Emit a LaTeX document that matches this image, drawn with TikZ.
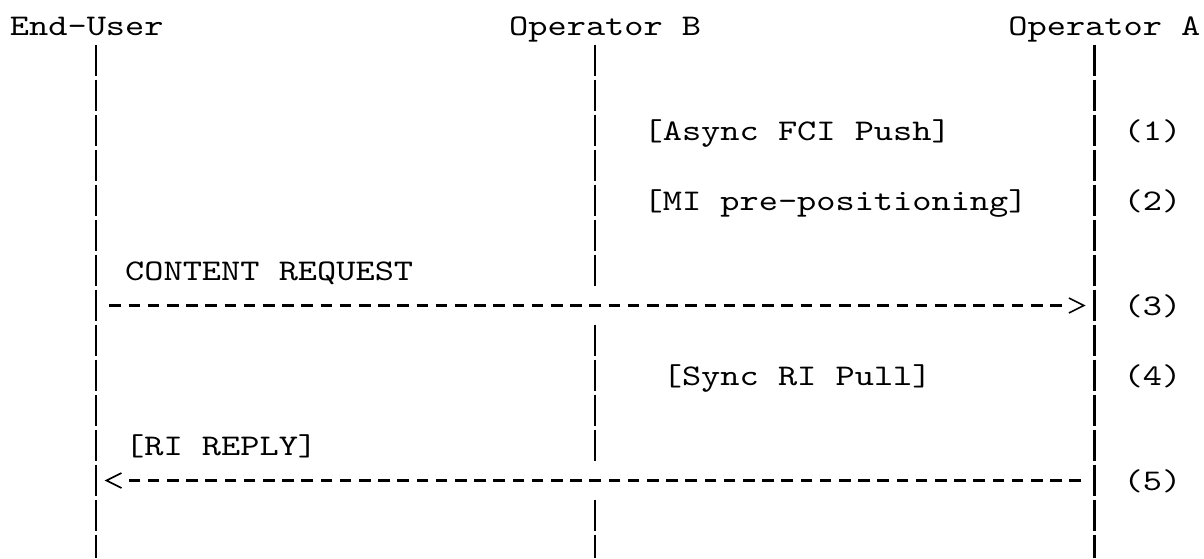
\documentclass[tikz,border=0pt]{standalone}
\usepackage{fontspec}
\newfontfamily\asciifont{lmmono10-regular.otf}[FakeStretch=1.219]
\begin{document}
\begin{tikzpicture}[x=0.5pt,y=-0.5pt,
  lbl/.style={anchor=base west, inner sep=0pt, font=\asciifont\fontsize{15}{18}\selectfont},
  lifeline/.style={draw=black, line width=1.1pt, dash pattern=on 15.85pt off 1.65pt},
  msg/.style={draw=black, line width=1.4pt, dash pattern=on 5.85pt off 3.75pt,
              shorten <=6.675pt, shorten >=16.275pt},
  tipline/.style={draw=black, line width=0.8pt, line join=miter}]
\useasboundingbox (0,0) rectangle (1204,558);
\fill[white] (0,0) rectangle (1204,558);

% header
\node[lbl] (eu)  at (9.6,35)  {End-User};
\node[lbl] (opb) at (508.8,35) {Operator B};
\node[lbl] (opa) at (1008,35) {Operator A};

% lifeline end points
\coordinate (euTop) at (96,44.65);
\coordinate (euBot) at (96,558);
\coordinate (aTop)  at (1094.4,44.65);
\coordinate (aBot)  at (1094.4,558);
\coordinate (bTop)  at (595.2,44.65);
\coordinate (bR7)   at (595.2,286.35);
\coordinate (bR9)   at (595.2,324.65);
\coordinate (bR12)  at (595.2,461.35);
\coordinate (bR14)  at (595.2,499.65);
\coordinate (bBot)  at (595.2,558);

\draw[lifeline] (euTop) -- (euBot);
\draw[lifeline] (aTop) -- (aBot);
\draw[lifeline] (bTop) -- (bR7);
\draw[lifeline] (bR9) -- (bR12);
\draw[lifeline] (bR14) -- (bBot);

% step labels
\node[lbl] (s1) at (643.2,140) {[Async FCI Push]};
\node[lbl] (n1) at (1123.2,140) {(1)};
\node[lbl] (s2) at (643.2,210) {[MI pre-positioning]};
\node[lbl] (n2) at (1123.2,210) {(2)};
\node[lbl] (s3) at (124.8,280) {CONTENT REQUEST};
\node[lbl] (n3) at (1123.2,315) {(3)};
\node[lbl] (s4) at (662.4,385) {[Sync RI Pull]};
\node[lbl] (n4) at (1123.2,385) {(4)};
\node[lbl] (s5) at (124.8,455) {[RI REPLY]};
\node[lbl] (n5) at (1123.2,490) {(5)};

% message (3): End-User -> Operator A
\coordinate (m3s) at (96,305.5);
\coordinate (m3e) at (1094.4,305.5);
\draw[msg] (m3s) -- (m3e);
\draw[tipline] (m3e) ++(-25.5,-7.5) -- ++(15,7.5) -- ++(-15,7.5);

% message (5): Operator A -> End-User
\coordinate (m5s) at (1094.4,480.5);
\coordinate (m5e) at (96,480.5);
\draw[msg] (m5s) -- (m5e);
\draw[tipline] (m5e) ++(25.5,-7.5) -- ++(-15,7.5) -- ++(15,7.5);
\end{tikzpicture}
\end{document}
